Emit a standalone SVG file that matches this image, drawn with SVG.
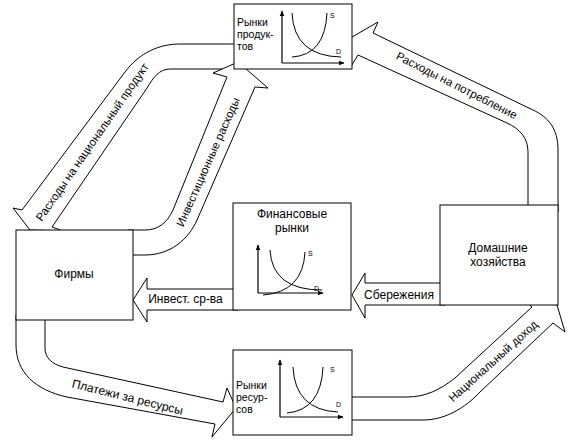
<svg xmlns="http://www.w3.org/2000/svg" width="582" height="440" viewBox="0 0 582 440">
<defs>
<marker id="ah" viewBox="0 0 10 10" refX="9" refY="5" markerWidth="6" markerHeight="6" orient="auto" markerUnits="userSpaceOnUse">
<path d="M0,1 L10,5 L0,9 Z" fill="#000"/>
</marker>
<style>
.box{fill:#fff;stroke:#000;stroke-width:1}
.arr{fill:#fff;stroke:#000;stroke-width:1;stroke-linejoin:miter}
.ax{fill:none;stroke:#000;stroke-width:1.2;marker-end:url(#ah)}
.cv{fill:none;stroke:#000;stroke-width:1}
text{font-family:"Liberation Sans",Arial,sans-serif;fill:#000}
.lb{font-size:12px}
.dl{font-size:11.5px}
.sm{font-size:10.5px}
.sd{font-size:7px}
</style>
</defs>
<rect width="582" height="440" fill="#fff"/>
<g id="connectors">
<path class="arr" d="M558,212 L558,150 C558,128 548,117 533,110 L373,33 L378,22 L340,44 L350,68 L358,55 L507,123 C520,129 528,138 528,152 L528,212 Z"/>
<path class="arr" d="M240,44 L180,44 C160,44 140,52 125,72 L22,210 L13,208 L30,230 L63,231 L52,227 L147,88 C153,78 159,69 170,69 L240,69 Z"/>
<path class="arr" d="M128,230 L145,230 C158,230 167,223 173,210 L227,77 L213,73 L238,62 L268,88 L255,87 L197,220 C188,240 170,255 145,255 L128,255 Z"/>
<path class="arr" d="M16,315 L16,345 C16,372 35,390 67,397 L215,424 L212,437 L236,408 L227,388 L223,402 L63,367 C52,364 45,358 45,348 L45,315 Z"/>
<path class="arr" d="M347,397 L407,397 C425,397 440,390 455,378 L532,307 L522,298 L557,305 L565,332 L553,323 L480,392 C465,408 445,420 423,420 L347,420 Z"/>
<path class="arr" d="M445,283 L365,283 L365,273 L352,295 L365,318 L365,305 L445,305 Z"/>
<path class="arr" d="M238,289 L147,289 L147,278 L133,300 L147,322 L147,310 L238,310 Z"/>
<text class="dl" transform="translate(455,89) rotate(27)" text-anchor="middle">Расходы на потребление</text>
<text class="dl" transform="translate(95.4,144.4) rotate(-55.3)" text-anchor="middle">Расходы на национальный продукт</text>
<text class="dl" transform="translate(211.6,163.6) rotate(-66)" text-anchor="middle">Инвестиционные расходы</text>
<text class="lb" transform="translate(126.5,401) rotate(14)" text-anchor="middle">Платежи за ресурсы</text>
<text class="dl" transform="translate(495.7,364) rotate(-42)" text-anchor="middle">Национальный доход</text>
<text class="lb" x="399" y="298.5" text-anchor="middle">Сбережения</text>
<text class="lb" x="185.5" y="303" text-anchor="middle">Инвест. ср-ва</text>
</g>
<g id="product-markets">
<rect class="box" x="234" y="4" width="118" height="65"/>
<text class="sm" x="237" y="26">Рынки</text>
<text class="sm" x="237" y="38">продук-</text>
<text class="sm" x="237" y="50">тов</text>
<path class="ax" d="M282,63 L282,11"/>
<path class="ax" d="M282,63 L344,63"/>
<path class="cv" d="M292,13 Q294,56 341,57"/>
<path class="cv" d="M327,13 Q325,55 292,57"/>
<text class="sd" x="330" y="18">S</text>
<text class="sd" x="336" y="54">D</text>
</g>
<g id="firms">
<rect class="box" x="16" y="230" width="117" height="90"/>
<text class="lb" x="74" y="278" text-anchor="middle">Фирмы</text>
</g>
<g id="financial-markets">
<rect class="box" x="233" y="203" width="118" height="107"/>
<text class="lb" x="292" y="218" text-anchor="middle">Финансовые</text>
<text class="lb" x="292" y="232" text-anchor="middle">рынки</text>
<path class="ax" d="M258,293 L258,245"/>
<path class="ax" d="M258,293 L323,293"/>
<path class="cv" d="M270,250 Q272,290 322,290"/>
<path class="cv" d="M305,252 Q303,292 263,295"/>
<text class="sd" x="308" y="256">S</text>
<text class="sd" x="314" y="291">D</text>
</g>
<g id="households">
<rect class="box" x="440" y="205" width="118" height="100"/>
<text class="lb" x="498" y="251.5" text-anchor="middle">Домашние</text>
<text class="lb" x="498" y="266" text-anchor="middle">хозяйства</text>
</g>
<g id="resource-markets">
<rect class="box" x="233" y="350" width="119" height="85"/>
<text class="sm" x="236" y="389">Рынки</text>
<text class="sm" x="236" y="401">ресур-</text>
<text class="sm" x="236" y="413">сов</text>
<path class="ax" d="M280,417 L280,360"/>
<path class="ax" d="M280,417 L343,417"/>
<path class="cv" d="M293,367 Q295,410 338,412"/>
<path class="cv" d="M323,367 Q321,410 287,413"/>
<text class="sd" x="330" y="372">S</text>
<text class="sd" x="336" y="407">D</text>
</g>
</svg>
